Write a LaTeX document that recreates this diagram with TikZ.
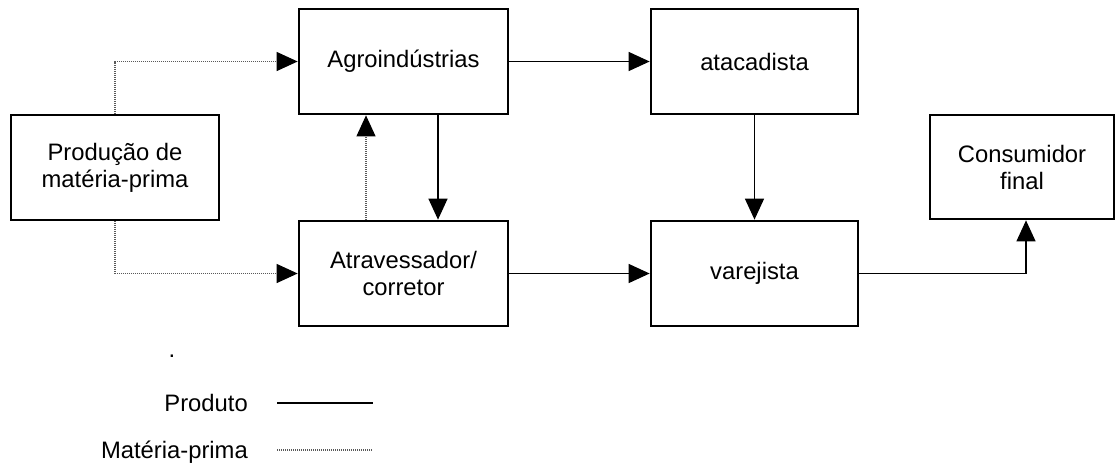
\documentclass[tikz,border=0pt]{standalone}
\usepackage{fontspec}
\setmainfont{Liberation Sans}
\usepackage{tikz}
\usetikzlibrary{positioning}
\usetikzlibrary{arrows.meta}

\begin{document}
\begin{tikzpicture}[x=1pt, y=-1pt,
    every node/.style={font=\fontsize{23.8}{27}\selectfont},
    box/.style={draw, line width=2.7pt, align=center, inner sep=0pt,
      minimum width=208pt, minimum height=105pt},
    prod/.style={line width=1.3pt, -{Triangle[length=21pt,width=19pt]}},
    mat/.style={line width=1.1pt, black!65, dash pattern=on 1pt off 1pt,
      -{Triangle[length=21pt,width=19pt,fill=black,color=black]}}
    ]

    \useasboundingbox (0,0) rectangle (1116,464);

    % caixas
    \node[box] (prodmp) at (115,167.5) {Produção de\\matéria-prima};
    \node[box, minimum width=209pt] (agro) at (403.5,61.5) {Agroindústrias};
    \node[box, minimum width=209pt] (atrav) at (403.5,273.5) {Atravessador/\\corretor};
    \node[box, minimum width=207pt] (atac) at (754.5,61.5) {atacadista};
    \node[box, minimum width=207pt] (varej) at (754.5,273.5) {varejista};
    \node[box, minimum width=184pt, minimum height=104pt] (cons) at (1022,167) {Consumidor\\final};

    % materia-prima
    \draw[mat] (prodmp.north) |- (agro.west);
    \draw[mat] (prodmp.south) |- (atrav.west);
    \draw[mat] ([xshift=-37.5pt]atrav.north) -- ([xshift=-37.5pt]agro.south);

    % produto
    \draw[prod] ([xshift=34.5pt]agro.south) -- ([xshift=34.5pt]atrav.north);
    \draw[prod] (agro.east) -- (atac.west);
    \draw[prod] (atac.south) -- (varej.north);
    \draw[prod] (atrav.east) -- (varej.west);
    \draw[prod] (varej.east) -| ([xshift=4pt]cons.south);

    % legenda
    \node[anchor=base, inner sep=0pt] (pto) at (172,357) {.};
    \node[anchor=base east, inner sep=0pt] (lprod) at (248,411) {Produto};
    \node[anchor=base east, inner sep=0pt] (lmat) at (248,458) {Matéria-prima};
    \coordinate (p1) at (277,403);
    \coordinate (p2) at (373,403);
    \coordinate (m1) at (277,450);
    \coordinate (m2) at (373,450);
    \draw[line width=1.3pt] (p1) -- (p2);
    \draw[line width=1.1pt, black!65, dash pattern=on 1pt off 1pt] (m1) -- (m2);

\end{tikzpicture}
\end{document}
